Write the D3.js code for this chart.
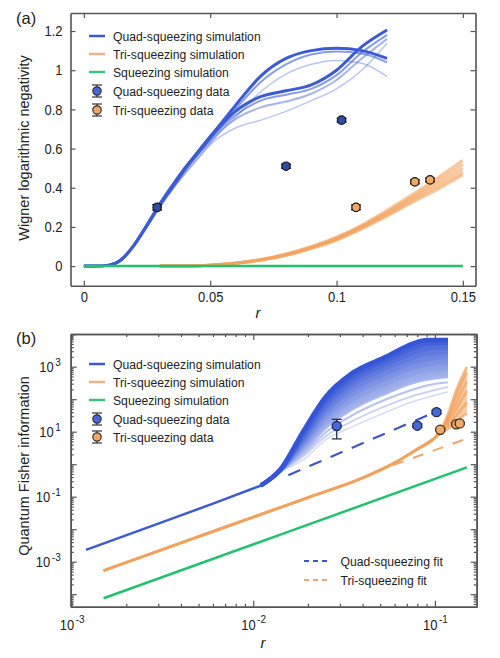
<!DOCTYPE html>
<html>
<head>
<meta charset="utf-8">
<script src="https://cdn.jsdelivr.net/npm/d3@7"></script>
<style>
body { margin: 0; background: #fff; }
svg text { font-family: "Liberation Sans", Arial, sans-serif; fill: #222; }
.sy { transform-box: fill-box; transform-origin: center; transform: scaleY(1.12); }
</style>
</head>
<body>
<div id="chart"></div>
<script>
/* two panels: Wigner log negativity (a) and QFI on log axes (b) */

// ---------- panel (a) data ----------
var a_xticks = [0, 0.05, 0.1, 0.15];
var a_xtick_labels = ["0", "0.05", "0.1", "0.15"];
var a_yticks = [0, 0.2, 0.4, 0.6, 0.8, 1, 1.2];
var a_ytick_labels = ["0", "0.2", "0.4", "0.6", "0.8", "1", "1.2"];

var a_r_quad = [0, 0.005, 0.01, 0.015, 0.02, 0.025, 0.03, 0.035, 0.04, 0.045, 0.05, 0.055, 0.06, 0.07, 0.08, 0.09, 0.1, 0.11, 0.12];
var a_quad_sim = [
    [0, 0, 0.005, 0.033, 0.105, 0.2, 0.3, 0.39, 0.47, 0.545, 0.62, 0.67, 0.705, 0.745, 0.79, 0.845, 0.905, 1.0, 1.138],
    [0, 0, 0.005, 0.033, 0.105, 0.2, 0.3, 0.39, 0.475, 0.55, 0.625, 0.7, 0.76, 0.89, 0.98, 1.03, 1.05, 1.035, 0.967],
    [0, 0, 0.005, 0.034, 0.107, 0.203, 0.305, 0.395, 0.485, 0.565, 0.635, 0.7, 0.75, 0.81, 0.84, 0.88, 0.95, 1.06, 1.16],
    [0, 0, 0.005, 0.034, 0.108, 0.205, 0.31, 0.4, 0.49, 0.57, 0.645, 0.715, 0.77, 0.845, 0.875, 0.905, 0.975, 1.09, 1.18],
    [0, 0, 0.005, 0.034, 0.108, 0.205, 0.31, 0.4, 0.49, 0.57, 0.65, 0.725, 0.8, 0.94, 1.03, 1.08, 1.095, 1.085, 1.04],
    [0, 0, 0.005, 0.035, 0.11, 0.21, 0.315, 0.41, 0.5, 0.58, 0.66, 0.73, 0.79, 0.865, 0.895, 0.925, 1.0, 1.12, 1.205],
    [0, 0, 0.005, 0.035, 0.11, 0.21, 0.315, 0.41, 0.5, 0.58, 0.66, 0.74, 0.82, 0.97, 1.06, 1.1, 1.112, 1.1, 1.06]
];

var a_r_tri = [0.03, 0.04, 0.05, 0.06, 0.07, 0.08, 0.09, 0.1, 0.11, 0.12, 0.13, 0.14, 0.15];
var a_tri_sim = [
    [0, 0.001, 0.005, 0.014, 0.03, 0.054, 0.089, 0.132, 0.19, 0.255, 0.325, 0.392, 0.465],
    [0, 0.001, 0.005, 0.014, 0.031, 0.056, 0.092, 0.136, 0.195, 0.262, 0.335, 0.405, 0.48],
    [0, 0.001, 0.005, 0.015, 0.032, 0.058, 0.095, 0.14, 0.2, 0.27, 0.345, 0.42, 0.5],
    [0, 0.001, 0.005, 0.015, 0.033, 0.06, 0.097, 0.144, 0.204, 0.276, 0.354, 0.435, 0.52],
    [0, 0.001, 0.005, 0.016, 0.034, 0.062, 0.1, 0.148, 0.21, 0.285, 0.365, 0.45, 0.54]
];

var a_r_sq = [0, 0.15];
var a_sq_sim = [0, 0];

var a_quad_r = [0.029, 0.08, 0.102];
var a_quad_v = [0.30, 0.51, 0.745];
var a_quad_err = [0.014, 0.01, 0.01];
var a_tri_r = [0.1077, 0.131, 0.137];
var a_tri_v = [0.30, 0.43, 0.44];
var a_tri_err = [0.012, 0.01, 0.01];

// ---------- panel (b) data ----------
var b_xtick_exp = [-3, -2, -1];
var b_ytick_exp = [-3, -1, 1, 3];

var b_r_quad_line = [0.0012, 0.003, 0.006, 0.011];
var b_quad_line = [0.0023, 0.0149, 0.061, 0.22];

var b_r_fan = [0.011, 0.014, 0.019, 0.025, 0.035, 0.054, 0.076, 0.09, 0.118];
var b_quad_fan = [
    [0.22, 0.66, 11.2, 117, 631, 2040, 5250, 6610, 6610],
    [0.22, 0.63, 8.9, 89, 479, 1585, 3980, 5250, 5620],
    [0.22, 0.63, 7.1, 66, 355, 1200, 2820, 3800, 4170],
    [0.22, 0.62, 6.0, 50, 263, 891, 2000, 2630, 3020],
    [0.22, 0.6, 5.0, 38, 200, 661, 1410, 1860, 2140],
    [0.22, 0.6, 4.2, 29, 141, 479, 1000, 1260, 1510],
    [0.22, 0.59, 3.5, 22, 100, 331, 708, 891, 1050],
    [0.22, 0.59, 3.0, 16.6, 71, 224, 479, 603, 708],
    [0.22, 0.58, 2.5, 12.6, 48, 151, 316, 398, 479],
    [0.22, 0.58, 2.1, 9.5, 32, 100, 200, 263, 331],
    [0.22, 0.56, 1.8, 7.2, 21, 63, 126, 166, 240],
    [0.22, 0.56, 1.4, 5.6, 14, 40, 85, 112, 170]
];

var b_r_tri = [0.0015, 0.004, 0.01, 0.02, 0.04, 0.06, 0.08, 0.1, 0.11, 0.12, 0.13, 0.14, 0.15];
var b_tri_sim = [
    [0.00053, 0.0038, 0.0235, 0.094, 0.38, 1.1, 2.9, 6.5, 9.5, 13, 20, 28, 36],
    [0.00053, 0.0038, 0.0235, 0.094, 0.38, 1.1, 2.9, 6.5, 10.5, 17, 30, 50, 80],
    [0.00053, 0.0038, 0.0235, 0.094, 0.38, 1.1, 2.9, 6.5, 11, 22, 45, 95, 180],
    [0.00053, 0.0038, 0.0235, 0.094, 0.38, 1.1, 2.9, 6.5, 12, 28, 70, 170, 350],
    [0.00053, 0.0038, 0.0235, 0.094, 0.38, 1.1, 2.9, 6.5, 13, 35, 110, 300, 650],
    [0.00053, 0.0038, 0.0235, 0.094, 0.38, 1.1, 2.9, 6.5, 14, 45, 170, 450, 1000]
];

var b_r_sq = [0.0015, 0.015, 0.15];
var b_sq_sim = [0.000075, 0.0077, 0.8];

var b_r_quad_fit = [0.0156, 0.106];
var b_quad_fit = [0.46, 46];
var b_r_tri_fit = [0.059, 0.143];
var b_tri_fit = [0.94, 5.6];

var b_quad_r = [0.0288, 0.08, 0.102];
var b_quad_v = [15, 15.3, 40];
var b_quad_lo = [6, 13.5, 35];
var b_quad_hi = [24, 17.5, 46];
var b_tri_r = [0.107, 0.131, 0.137];
var b_tri_v = [11.5, 17, 18];
var b_tri_lo = [10.5, 15.5, 16.5];
var b_tri_hi = [12.5, 18.5, 19.5];

var legend_labels = ["Quad-squeezing simulation", "Tri-squeezing simulation", "Squeezing simulation",
    "Quad-squeezing data", "Tri-squeezing data"];
var fit_labels = ["Quad-squeezing fit", "Tri-squeezing fit"];

// ---------- styles ----------
var blue = "#3b5bd5", orange = "#f3a15c", green = "#22c16c";
var dotBlueA = "#2f4ca8", dotBlueB = "#4668d2", dotOrange = "#f0a868";
var axisColor = "#555";

var svg = d3.select("#chart")
    .append("svg")
    .attr("width", 500)
    .attr("height", 658);

function styleAxis(g) {
    g.attr("font-family", null).attr("font-size", 13).style("color", axisColor);
    g.select(".domain").attr("stroke-width", 1.6);
    g.selectAll(".tick line").attr("stroke-width", 1.2);
    g.selectAll(".tick text").attr("fill", "#222").attr("class", "sy");
}

function errPoint(g, cx, cy, ylo, yhi, fill, stroke, r) {
    g.append("line").attr("x1", cx).attr("x2", cx).attr("y1", ylo).attr("y2", yhi)
        .attr("stroke", stroke).attr("stroke-width", 1.2);
    [ylo, yhi].forEach(function (yy) {
        g.append("line").attr("x1", cx - 5).attr("x2", cx + 5).attr("y1", yy).attr("y2", yy)
            .attr("stroke", stroke).attr("stroke-width", 1.2);
    });
    g.append("circle").attr("cx", cx).attr("cy", cy).attr("r", r)
        .attr("fill", fill).attr("stroke", stroke).attr("stroke-width", 1.2);
}

function legend(g, x0, ys) {
    var colors = [blue, "#f0b088", "#3cc27e"];
    legend_labels.forEach(function (lab, i) {
        var y = ys[i];
        if (i < 3) {
            g.append("line").attr("x1", x0).attr("x2", x0 + 16).attr("y1", y).attr("y2", y)
                .attr("stroke", colors[i]).attr("stroke-width", 2.5);
        } else {
            var f = i == 3 ? dotBlueB : dotOrange;
            errPoint(g, x0 + 8, y, y - 6, y + 6, f, "#333", 4.2);
        }
        g.append("text").attr("class", "sy").attr("x", x0 + 24).attr("y", y).attr("dy", "0.35em")
            .attr("font-size", 12.2).text(lab);
    });
}

// ================= panel (a) =================
var xa = d3.scaleLinear().domain([-0.0053, 0.155]).range([70.5, 475.5]);
var ya = d3.scaleLinear().domain([-0.1, 1.292]).range([285.7, 13]);
var ga = svg.append("g");

var lineA = d3.line().x(d => xa(d[0])).y(d => ya(d[1])).curve(d3.curveMonotoneX);

var quadW = [1.5, 1.5, 2, 2, 2, 3, 3];
var quadOp = [0.35, 0.35, 0.45, 0.6, 0.6, 1, 1];
a_quad_sim.forEach(function (vals, i) {
    ga.append("path")
        .datum(vals.map((v, j) => [a_r_quad[j], v]))
        .attr("d", lineA).attr("fill", "none")
        .attr("stroke", blue).attr("stroke-opacity", quadOp[i]).attr("stroke-width", quadW[i]);
});

a_tri_sim.forEach(function (vals) {
    ga.append("path")
        .datum(vals.map((v, j) => [a_r_tri[j], v]))
        .attr("d", lineA).attr("fill", "none")
        .attr("stroke", orange).attr("stroke-opacity", 0.6).attr("stroke-width", 3);
});

ga.append("path")
    .datum(a_sq_sim.map((v, j) => [a_r_sq[j], v]))
    .attr("d", lineA).attr("fill", "none").attr("stroke", green).attr("stroke-width", 2.5);

a_quad_r.forEach(function (r, i) {
    errPoint(ga, xa(r), ya(a_quad_v[i]), ya(a_quad_v[i] - a_quad_err[i]), ya(a_quad_v[i] + a_quad_err[i]),
        dotBlueA, "#111", 4.2);
});
a_tri_r.forEach(function (r, i) {
    errPoint(ga, xa(r), ya(a_tri_v[i]), ya(a_tri_v[i] - a_tri_err[i]), ya(a_tri_v[i] + a_tri_err[i]),
        dotOrange, "#111", 4.2);
});

// axes (ticks point inward on all four sides)
ga.append("g").attr("transform", "translate(0,285.7)")
    .call(d3.axisBottom(xa).tickValues(a_xticks).tickSize(-5).tickSizeOuter(0).tickPadding(7)
        .tickFormat((d, i) => a_xtick_labels[i]))
    .call(styleAxis);
ga.append("g").attr("transform", "translate(0,13)")
    .call(d3.axisTop(xa).tickValues(a_xticks).tickSize(-5).tickSizeOuter(0).tickFormat(""))
    .call(styleAxis);
ga.append("g").attr("transform", "translate(70.5,0)")
    .call(d3.axisLeft(ya).tickValues(a_yticks).tickSize(-5).tickSizeOuter(0).tickPadding(8)
        .tickFormat((d, i) => a_ytick_labels[i]))
    .call(styleAxis);
ga.append("g").attr("transform", "translate(475.5,0)")
    .call(d3.axisRight(ya).tickValues(a_yticks).tickSize(-5).tickSizeOuter(0).tickFormat(""))
    .call(styleAxis);

ga.append("text").attr("transform", "translate(29,148) rotate(-90)")
    .attr("text-anchor", "middle").attr("font-size", 14.5).text("Wigner logarithmic negativity");
ga.append("text").attr("x", 258).attr("y", 318).attr("text-anchor", "middle")
    .attr("font-size", 15).attr("font-style", "italic").text("r");
ga.append("text").attr("x", 16).attr("y", 24).attr("font-size", 16.5).text("(a)");

legend(ga, 89, [36, 54, 72, 91, 110]);

// ================= panel (b) =================
var xb = d3.scaleLog().domain([Math.pow(10, -3.005), Math.pow(10, -0.77)]).range([70.7, 476.7]);
var yb = d3.scaleLog().domain([Math.pow(10, -4.385), Math.pow(10, 4.006)]).range([606.7, 334]);
var gb = svg.append("g");

var lineB = d3.line().x(d => xb(d[0])).y(d => yb(d[1])).curve(d3.curveMonotoneX);
var bandB = d3.area().x(d => xb(d[0])).y0(d => yb(d[1])).y1(d => yb(d[2])).curve(d3.curveMonotoneX);

// fan of quad-squeezing simulations: shaded between neighbours in the dense upper part,
// separate light lines further down
var fanColor = d3.interpolateRgb("#3555d6", "#d3dcf6");
var nFan = b_quad_fan.length;
for (var i = 0; i < nFan - 1; i++) {
    var t = i / (nFan - 1);
    if (i > 7) break;
    gb.append("path")
        .datum(b_quad_fan[i].map((v, j) => [b_r_fan[j], b_quad_fan[i + 1][j], v]))
        .attr("d", bandB)
        .attr("fill", fanColor(t * 1.05)).attr("stroke", "none");
}
for (var i = nFan - 1; i >= 0; i--) {
    var t = i / (nFan - 1);
    gb.append("path")
        .datum(b_quad_fan[i].map((v, j) => [b_r_fan[j], v]))
        .attr("d", lineB).attr("fill", "none")
        .attr("stroke", fanColor(t)).attr("stroke-width", 4.5 - 3 * t);
}
gb.append("path")
    .datum(b_quad_line.map((v, j) => [b_r_quad_line[j], v]))
    .attr("d", lineB).attr("fill", "none").attr("stroke", blue).attr("stroke-width", 2.5);

// tri-squeezing band: shaded between lowest and highest, then lines
var triLow = b_tri_sim[0], triHigh = b_tri_sim[b_tri_sim.length - 1];
gb.append("path")
    .datum(triHigh.map((v, j) => [b_r_tri[j], triLow[j], v]))
    .attr("d", bandB).attr("fill", orange).attr("fill-opacity", 0.55);
b_tri_sim.forEach(function (vals) {
    gb.append("path")
        .datum(vals.map((v, j) => [b_r_tri[j], v]))
        .attr("d", lineB).attr("fill", "none")
        .attr("stroke", orange).attr("stroke-opacity", 0.7).attr("stroke-width", 2.5);
});

gb.append("path")
    .datum(b_sq_sim.map((v, j) => [b_r_sq[j], v]))
    .attr("d", lineB).attr("fill", "none").attr("stroke", green).attr("stroke-width", 2.5);

gb.append("path")
    .datum(b_quad_fit.map((v, j) => [b_r_quad_fit[j], v]))
    .attr("d", d3.line().x(d => xb(d[0])).y(d => yb(d[1])))
    .attr("fill", "none").attr("stroke", "#3f55c8").attr("stroke-width", 2.2)
    .attr("stroke-dasharray", "13,10");
gb.append("path")
    .datum(b_tri_fit.map((v, j) => [b_r_tri_fit[j], v]))
    .attr("d", d3.line().x(d => xb(d[0])).y(d => yb(d[1])))
    .attr("fill", "none").attr("stroke", "#f0a66a").attr("stroke-width", 2)
    .attr("stroke-dasharray", "11,10");

b_quad_r.forEach(function (r, i) {
    errPoint(gb, xb(r), yb(b_quad_v[i]), yb(b_quad_lo[i]), yb(b_quad_hi[i]), dotBlueB, "#1a2350", 4.6);
});
b_tri_r.forEach(function (r, i) {
    errPoint(gb, xb(r), yb(b_tri_v[i]), yb(b_tri_lo[i]), yb(b_tri_hi[i]), dotOrange, "#3a2a1a", 4.6);
});

// log axes: majors every decade, minors 2..9
var b_xmajor = [], b_xminor = [], b_ymajor = [], b_yminor = [];
for (var k = -3; k <= -1; k++) {
    b_xmajor.push(Math.pow(10, k));
    for (var m = 2; m <= 9; m++) if (m * Math.pow(10, k) < 0.17) b_xminor.push(m * Math.pow(10, k));
}
for (var k = -5; k <= 4; k++) {
    if (k >= -4) b_ymajor.push(Math.pow(10, k));
    for (var m = 2; m <= 9; m++) {
        var v = m * Math.pow(10, k);
        if (v > Math.pow(10, -4.385) && v < Math.pow(10, 4.006)) b_yminor.push(v);
    }
}

function supLabels(g, exps) {
    g.selectAll(".tick text").each(function (d) {
        var e = Math.round(Math.log10(d));
        var txt = d3.select(this).text(null);
        if (exps.indexOf(e) < 0) return;
        txt.append("tspan").text("10");
        txt.append("tspan").attr("dy", "-0.55em").attr("dx", "1.5").attr("font-size", 10).text(String(e));
    });
}

var ax;
ax = gb.append("g").attr("transform", "translate(0,606.7)")
    .call(d3.axisBottom(xb).tickValues(b_xmajor).tickSize(-6).tickSizeOuter(0).tickPadding(13))
    .call(styleAxis);
supLabels(ax, b_xtick_exp);
gb.append("g").attr("transform", "translate(0,606.7)")
    .call(d3.axisBottom(xb).tickValues(b_xminor).tickSize(-3).tickSizeOuter(0).tickFormat(""))
    .call(styleAxis);
gb.append("g").attr("transform", "translate(0,334)")
    .call(d3.axisTop(xb).tickValues(b_xmajor).tickSize(-6).tickSizeOuter(0).tickFormat(""))
    .call(styleAxis);
gb.append("g").attr("transform", "translate(0,334)")
    .call(d3.axisTop(xb).tickValues(b_xminor).tickSize(-3).tickSizeOuter(0).tickFormat(""))
    .call(styleAxis);

ax = gb.append("g").attr("transform", "translate(70.7,0)")
    .call(d3.axisLeft(yb).tickValues(b_ymajor).tickSize(-6).tickSizeOuter(0).tickPadding(10))
    .call(styleAxis);
supLabels(ax, b_ytick_exp);
gb.append("g").attr("transform", "translate(70.7,0)")
    .call(d3.axisLeft(yb).tickValues(b_yminor).tickSize(-3).tickSizeOuter(0).tickFormat(""))
    .call(styleAxis);
gb.append("g").attr("transform", "translate(476.7,0)")
    .call(d3.axisRight(yb).tickValues(b_ymajor).tickSize(-6).tickSizeOuter(0).tickFormat(""))
    .call(styleAxis);
gb.append("g").attr("transform", "translate(476.7,0)")
    .call(d3.axisRight(yb).tickValues(b_yminor).tickSize(-3).tickSizeOuter(0).tickFormat(""))
    .call(styleAxis);

gb.append("text").attr("transform", "translate(29,466) rotate(-90)")
    .attr("text-anchor", "middle").attr("font-size", 14.5).text("Quantum Fisher information");
gb.append("text").attr("x", 263).attr("y", 648).attr("text-anchor", "middle")
    .attr("font-size", 15).attr("font-style", "italic").text("r");
gb.append("text").attr("x", 16).attr("y", 344).attr("font-size", 16.5).text("(b)");

legend(gb, 89, [364, 382, 400, 419, 437]);

// fit legend
var fitColors = ["#3f55c8", "#f0a66a"];
fit_labels.forEach(function (lab, i) {
    var y = [561, 580][i];
    gb.append("line").attr("x1", 304).attr("x2", 327).attr("y1", y).attr("y2", y)
        .attr("stroke", fitColors[i]).attr("stroke-width", 2).attr("stroke-dasharray", "5,4");
    gb.append("text").attr("class", "sy").attr("x", 340.5).attr("y", y).attr("dy", "0.35em")
        .attr("font-size", 12.2).text(lab);
});
</script>
</body>
</html>
